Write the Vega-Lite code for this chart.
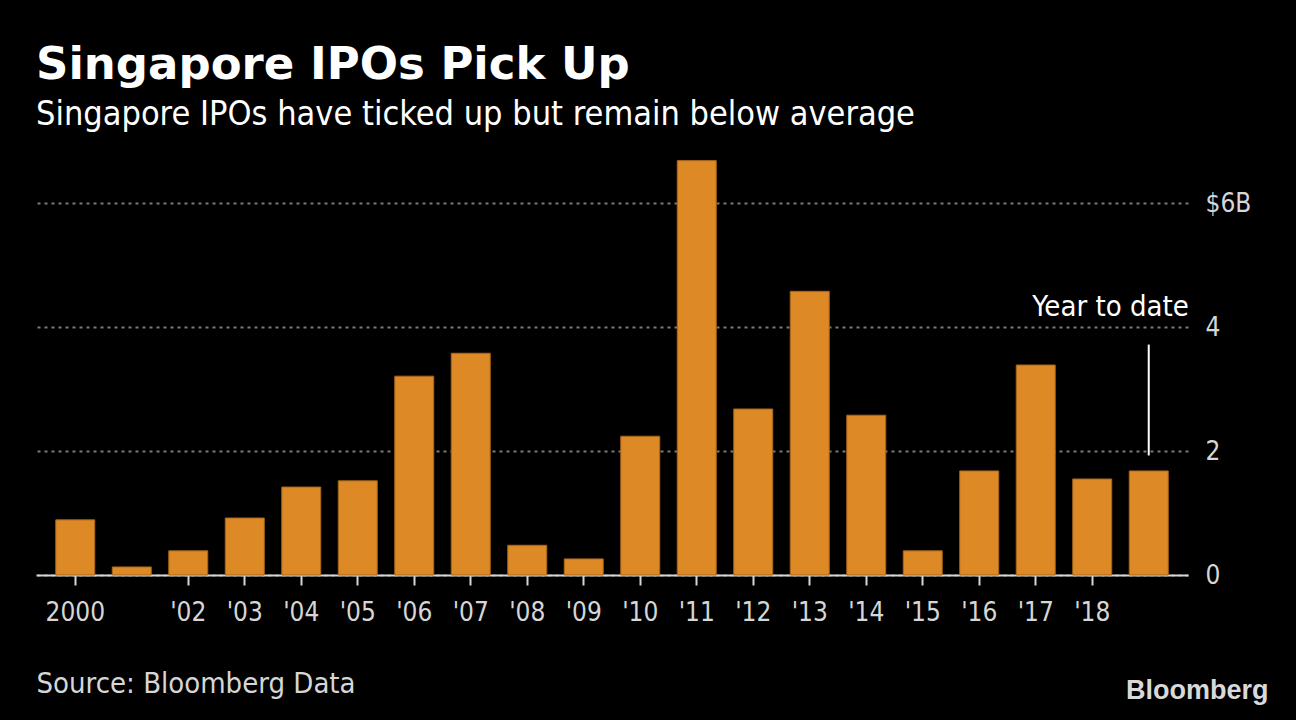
{
  "$schema": "https://vega.github.io/schema/vega-lite/v6.json",
  "width": 1152,
  "height": 415,
  "autosize": {"type": "none"},
  "padding": {"left": 36, "top": 160, "right": 108, "bottom": 145},
  "background": "#000000",
  "title": {
    "text": "Singapore IPOs Pick Up",
    "subtitle": "Singapore IPOs have ticked up but remain below average",
    "anchor": "start",
    "frame": "group",
    "offset": 28,
    "font": "DejaVu Sans",
    "fontSize": 45,
    "fontWeight": "bold",
    "color": "#ffffff",
    "subtitleFont": "DejaVu Sans Condensed",
    "subtitleFontSize": 34,
    "subtitleColor": "#ffffff",
    "subtitlePadding": 10
  },
  "config": {
    "view": {"stroke": null},
    "axis": {"labelFont": "DejaVu Sans Condensed", "titleFont": "DejaVu Sans Condensed"}
  },
  "data": {
    "values": [
      {"year": "2000", "value": 0.89},
      {"year": "2001", "value": 0.13},
      {"year": "2002", "value": 0.39},
      {"year": "2003", "value": 0.92},
      {"year": "2004", "value": 1.42},
      {"year": "2005", "value": 1.52},
      {"year": "2006", "value": 3.21},
      {"year": "2007", "value": 3.58},
      {"year": "2008", "value": 0.48},
      {"year": "2009", "value": 0.26},
      {"year": "2010", "value": 2.24},
      {"year": "2011", "value": 6.69},
      {"year": "2012", "value": 2.68},
      {"year": "2013", "value": 4.58},
      {"year": "2014", "value": 2.58},
      {"year": "2015", "value": 0.39},
      {"year": "2016", "value": 1.68},
      {"year": "2017", "value": 3.39},
      {"year": "2018", "value": 1.55},
      {"year": "2019", "value": 1.68}
    ]
  },
  "encoding": {
    "x": {
      "field": "year",
      "type": "ordinal",
      "scale": {"paddingInner": 0.31, "paddingOuter": 0.35},
      "axis": {
        "values": ["2000","2002","2003","2004","2005","2006","2007","2008","2009","2010","2011","2012","2013","2014","2015","2016","2017","2018"],
        "labelExpr": "datum.value == '2000' ? '2000' : \"'\" + substring(datum.value, 2, 4)",
        "labelAngle": 0,
        "labelFontSize": 26,
        "labelColor": "#d6d6d6",
        "labelPadding": 14,
        "tickColor": "#d6d6d6",
        "tickSize": 10,
        "tickWidth": 2,
        "domainColor": "#d6d6d6",
        "domainWidth": 2,
        "title": "Source: Bloomberg Data",
        "titleFontSize": 29,
        "titleFontWeight": "normal",
        "titleColor": "#d6d6d6",
        "titleAnchor": "start",
        "titleAlign": "left",
        "titleBaseline": "alphabetic",
        "titleX": 0,
        "titleY": 117
      }
    }
  },
  "layer": [
    {
      "mark": {"type": "bar", "color": "#dd8a26", "stroke": "#a8651a", "strokeWidth": 1},
      "encoding": {
        "y": {
          "field": "value",
          "type": "quantitative",
          "scale": {"domain": [0, 6.7], "nice": false},
          "axis": {
            "orient": "right",
            "values": [0, 2, 4, 6],
            "format": "d",
            "labelExpr": "datum.value == 6 ? '$6B' : datum.label",
            "labelFontSize": 26,
            "labelColor": "#d6d6d6",
            "labelPadding": 17,
            "labelAlign": "left",
            "ticks": false,
            "domain": false,
            "grid": true,
            "gridColor": "#7a7a7a",
            "gridWidth": 2,
            "gridDash": [3, 4],
            "title": "Bloomberg",
            "titleFont": "Liberation Sans",
            "titleFontSize": 27,
            "titleFontWeight": "bold",
            "titleColor": "#d9d9d9",
            "titleAngle": 0,
            "titleAlign": "right",
            "titleBaseline": "alphabetic",
            "titleX": 80,
            "titleY": 538
          }
        }
      }
    },
    {
      "data": {"values": [{"year": "2019", "lo": 1.93, "hi": 3.72}]},
      "mark": {"type": "rule", "color": "#ffffff", "strokeWidth": 2},
      "encoding": {
        "y": {"field": "lo", "type": "quantitative"},
        "y2": {"field": "hi"}
      }
    },
    {
      "data": {"values": [{"year": "2019", "pos": 4.18, "label": "Year to date"}]},
      "mark": {"type": "text", "color": "#ffffff", "fontSize": 29, "align": "right", "baseline": "alphabetic", "dx": 40, "font": "DejaVu Sans Condensed"},
      "encoding": {
        "y": {"field": "pos", "type": "quantitative"},
        "text": {"field": "label"}
      }
    }
  ]
}
